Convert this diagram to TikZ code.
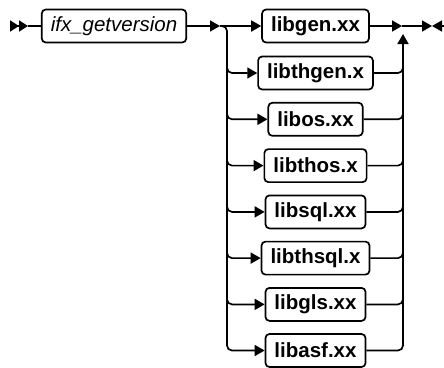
\documentclass[tikz,border=0pt]{standalone}
\usepackage{fontspec}
\setmainfont{Liberation Sans}
\usepackage{tikz}
\usetikzlibrary{arrows.meta}

\begin{document}
\begin{tikzpicture}[x=1pt,y=-1pt,line width=1.7pt,
    lib/.style={draw,rounded corners=4pt,minimum height=33pt,inner xsep=9pt,inner ysep=0pt,font=\fontsize{20.5}{24}\selectfont\bfseries},
    tip/.style={-{Triangle[length=10pt,width=11pt]}}]
      \useasboundingbox (0,0) rectangle (444,367);

      \node [lib,font=\fontsize{20.5}{24}\selectfont\itshape] (getver) at (114,26) {ifx\_getversion};
      \node [lib] (libgen) at (315.5,26) {libgen.xx};
      \node [lib] (libthgen) at (315.5,73) {libthgen.x};
      \node [lib] (libos) at (315.5,119.3) {libos.xx};
      \node [lib] (libthos) at (315.5,165.6) {libthos.x};
      \node [lib] (libsql) at (315.5,211.9) {libsql.xx};
      \node [lib] (libthsql) at (315.5,258.1) {libthsql.x};
      \node [lib] (libgls) at (315.5,304.4) {libgls.xx};
      \node [lib] (libasf) at (315.5,350.5) {libasf.xx};

      \coordinate (s0) at (10,26);
      \coordinate (s1) at (28,26);
      \coordinate (jl) at (220,26);
      \coordinate (rl) at (227,26);
      \coordinate (jr) at (402,26);
      \coordinate (rr) at (403,34);
      \coordinate (e1) at (432,26);
      \coordinate (e2) at (444,26);

      \draw [-{Triangle[length=9pt,width=11pt] Triangle[length=9pt,width=11pt]}] (s0) -- (s1);
      \draw (s1) -- (getver);
      \draw [tip] (getver) -- (jl);
      \draw [tip] (jl) -- (libgen);
      \draw [tip,rounded corners=5pt] (jl) -| (rl |- libasf) -- (libasf);
      \draw [tip,rounded corners=5pt] ([yshift=8pt]rl |- libthgen) |- (libthgen);
      \draw [tip,rounded corners=5pt] ([yshift=8pt]rl |- libos) |- (libos);
      \draw [tip,rounded corners=5pt] ([yshift=8pt]rl |- libthos) |- (libthos);
      \draw [tip,rounded corners=5pt] ([yshift=8pt]rl |- libsql) |- (libsql);
      \draw [tip,rounded corners=5pt] ([yshift=8pt]rl |- libthsql) |- (libthsql);
      \draw [tip,rounded corners=5pt] ([yshift=8pt]rl |- libgls) |- (libgls);

      \draw [rounded corners=5pt] (libthgen) -| ([yshift=8pt]rr |- libthgen);
      \draw [rounded corners=5pt] (libos) -| ([yshift=8pt]rr |- libos);
      \draw [rounded corners=5pt] (libthos) -| ([yshift=8pt]rr |- libthos);
      \draw [rounded corners=5pt] (libsql) -| ([yshift=8pt]rr |- libsql);
      \draw [rounded corners=5pt] (libthsql) -| ([yshift=8pt]rr |- libthsql);
      \draw [rounded corners=5pt] (libgls) -| ([yshift=8pt]rr |- libgls);
      \draw [tip,rounded corners=5pt] (libasf) -| (rr);

      \draw [tip] (libgen) -- (jr);
      \draw [tip] (jr) -- (e1);
      \draw [tip] (e2) -- (e1);
    \end{tikzpicture}
\end{document}
